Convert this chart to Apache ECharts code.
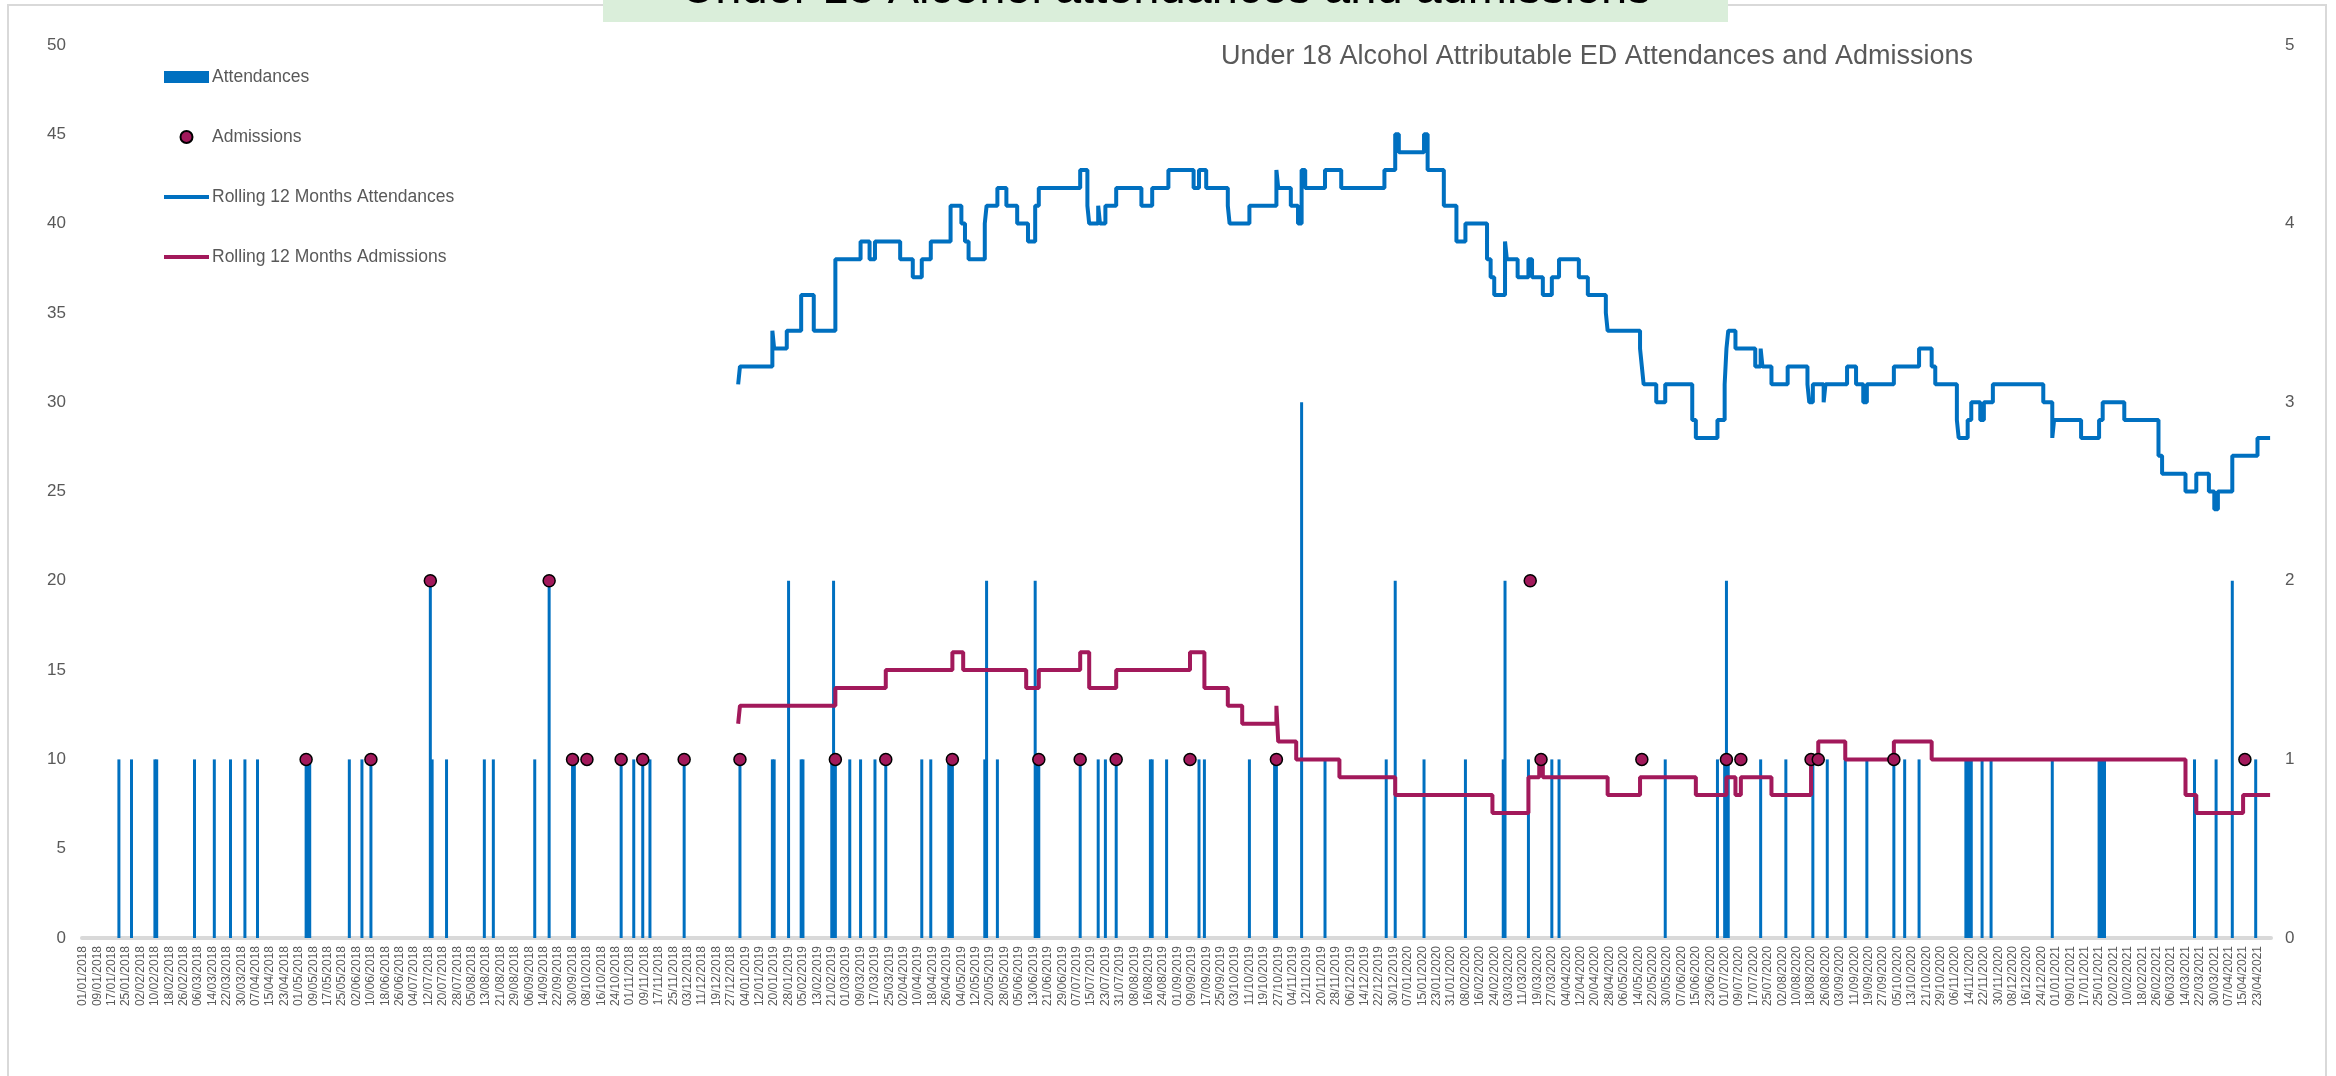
<!DOCTYPE html>
<html>
<head>
<meta charset="utf-8">
<script src="https://cdn.jsdelivr.net/npm/echarts@6/dist/echarts.min.js"></script>
<style>
html,body{margin:0;padding:0;background:#fff;}
#chart{width:2336px;height:1076px;}
</style>
</head>
<body>
<div id="chart"></div>
<script>
// ---- categories: every day from 01/01/2018 to 30/04/2021 ----
const firstDay = Date.UTC(2018, 0, 1);
const dayCount = 1216;
const categories = [];
for (let i = 0; i < dayCount; i++) {
  const d = new Date(firstDay + i * 86400000);
  const dd = String(d.getUTCDate()).padStart(2, '0');
  const mm = String(d.getUTCMonth() + 1).padStart(2, '0');
  categories.push(dd + '/' + mm + '/' + d.getUTCFullYear());
}

// ---- daily attendances (right axis) ----
const attendances = [
  ['21/01/2018',1],['28/01/2018',1],['10/02/2018',1],['11/02/2018',1],['04/03/2018',1],
  ['15/03/2018',1],['24/03/2018',1],['01/04/2018',1],['08/04/2018',1],['05/05/2018',1],
  ['06/05/2018',1],['07/05/2018',1],['29/05/2018',1],['05/06/2018',1],['10/06/2018',1],
  ['13/07/2018',2],['14/07/2018',1],['22/07/2018',1],['12/08/2018',1],['17/08/2018',1],
  ['09/09/2018',1],['17/09/2018',2],['30/09/2018',1],['01/10/2018',1],['27/10/2018',1],
  ['03/11/2018',1],['08/11/2018',1],['12/11/2018',1],['01/12/2018',1],
  ['01/01/2019',1],['19/01/2019',1],['20/01/2019',1],['28/01/2019',2],['04/02/2019',1],
  ['05/02/2019',1],['21/02/2019',1],['22/02/2019',2],['23/02/2019',1],['03/03/2019',1],
  ['09/03/2019',1],['17/03/2019',1],['23/03/2019',1],['12/04/2019',1],['17/04/2019',1],
  ['27/04/2019',1],['28/04/2019',1],['29/04/2019',1],['17/05/2019',1],['18/05/2019',2],
  ['24/05/2019',1],['14/06/2019',2],['15/06/2019',1],['16/06/2019',1],['09/07/2019',1],
  ['19/07/2019',1],['23/07/2019',1],['29/07/2019',1],['17/08/2019',1],['18/08/2019',1],
  ['26/08/2019',1],['13/09/2019',1],['16/09/2019',1],['11/10/2019',1],['25/10/2019',1],
  ['26/10/2019',1],['09/11/2019',3],['22/11/2019',1],['26/12/2019',1],['31/12/2019',2],
  ['16/01/2020',1],['08/02/2020',1],['29/02/2020',1],['01/03/2020',2],['14/03/2020',1],
  ['27/03/2020',1],['31/03/2020',1],['29/05/2020',1],['27/06/2020',1],['01/07/2020',1],
  ['02/07/2020',2],['03/07/2020',1],['21/07/2020',1],['04/08/2020',1],['19/08/2020',1],
  ['27/08/2020',1],['06/09/2020',1],['18/09/2020',1],['03/10/2020',1],['09/10/2020',1],
  ['17/10/2020',1],['12/11/2020',1],['13/11/2020',1],['14/11/2020',1],['15/11/2020',1],
  ['21/11/2020',1],['26/11/2020',1],['30/12/2020',1],['25/01/2021',1],['26/01/2021',1],
  ['27/01/2021',1],['28/01/2021',1],['19/03/2021',1],['31/03/2021',1],['09/04/2021',2],
  ['22/04/2021',1]
];

// ---- daily admissions (right axis) ----
const admissions = [
  ['05/05/2018',1],['10/06/2018',1],['13/07/2018',2],['17/09/2018',2],['30/09/2018',1],
  ['08/10/2018',1],['27/10/2018',1],['08/11/2018',1],['01/12/2018',1],['01/01/2019',1],
  ['23/02/2019',1],['23/03/2019',1],['29/04/2019',1],['16/06/2019',1],['09/07/2019',1],
  ['29/07/2019',1],['08/09/2019',1],['26/10/2019',1],['15/03/2020',2],['21/03/2020',1],
  ['16/05/2020',1],['02/07/2020',1],['10/07/2020',1],['18/08/2020',1],['22/08/2020',1],
  ['03/10/2020',1],['16/04/2021',1]
];

// ---- rolling 12 months attendances (left axis), value changes ----
const rollingAttendances = [
  ['31/12/2018',31],['01/01/2019',32],['19/01/2019',34],['20/01/2019',33],['27/01/2019',34],
  ['04/02/2019',36],['11/02/2019',34],['23/02/2019',38],['09/03/2019',39],['14/03/2019',38],
  ['17/03/2019',39],['31/03/2019',38],['07/04/2019',37],['12/04/2019',38],['17/04/2019',39],
  ['28/04/2019',41],['04/05/2019',40],['06/05/2019',39],['08/05/2019',38],['17/05/2019',40],
  ['18/05/2019',41],['24/05/2019',42],['29/05/2019',41],['04/06/2019',40],['10/06/2019',39],
  ['14/06/2019',41],['16/06/2019',42],['09/07/2019',43],['13/07/2019',41],['14/07/2019',40],
  ['19/07/2019',41],['20/07/2019',40],['23/07/2019',41],['29/07/2019',42],['12/08/2019',41],
  ['18/08/2019',42],['27/08/2019',43],['10/09/2019',42],['13/09/2019',43],['17/09/2019',42],
  ['29/09/2019',41],['30/09/2019',40],['11/10/2019',41],['26/10/2019',43],['27/10/2019',42],
  ['03/11/2019',41],['07/11/2019',40],['09/11/2019',43],['11/11/2019',42],['22/11/2019',43],
  ['01/12/2019',42],['25/12/2019',43],['31/12/2019',45],['02/01/2020',44],['16/01/2020',45],
  ['18/01/2020',43],['27/01/2020',41],['03/02/2020',39],['08/02/2020',40],['20/02/2020',38],
  ['22/02/2020',37],['24/02/2020',36],['01/03/2020',39],['02/03/2020',38],['08/03/2020',37],
  ['14/03/2020',38],['16/03/2020',37],['22/03/2020',36],['27/03/2020',37],['31/03/2020',38],
  ['11/04/2020',37],['16/04/2020',36],['26/04/2020',35],['27/04/2020',34],['15/05/2020',33],
  ['16/05/2020',32],['17/05/2020',31],['24/05/2020',30],['29/05/2020',31],['13/06/2020',29],
  ['15/06/2020',28],['27/06/2020',29],['01/07/2020',31],['02/07/2020',33],['03/07/2020',34],
  ['07/07/2020',33],['18/07/2020',32],['21/07/2020',33],['22/07/2020',32],['27/07/2020',31],
  ['05/08/2020',32],['16/08/2020',31],['17/08/2020',30],['19/08/2020',31],['25/08/2020',30],
  ['26/08/2020',31],['07/09/2020',32],['12/09/2020',31],['16/09/2020',30],['18/09/2020',31],
  ['03/10/2020',32],['17/10/2020',33],['24/10/2020',32],['26/10/2020',31],['07/11/2020',29],
  ['08/11/2020',28],['13/11/2020',29],['15/11/2020',30],['20/11/2020',29],['22/11/2020',30],
  ['27/11/2020',31],['25/12/2020',30],['30/12/2020',28],['31/12/2020',29],['15/01/2021',28],
  ['25/01/2021',29],['27/01/2021',30],['08/02/2021',29],['27/02/2021',27],['01/03/2021',26],
  ['14/03/2021',25],['20/03/2021',26],['27/03/2021',25],['30/03/2021',24],['01/04/2021',25],
  ['09/04/2021',27],['23/04/2021',28],['30/04/2021',28]
];

// ---- rolling 12 months admissions (left axis), value changes ----
const rollingAdmissions = [
  ['31/12/2018',12],['01/01/2019',13],['23/02/2019',14],['23/03/2019',15],['29/04/2019',16],
  ['05/05/2019',15],['09/06/2019',14],['16/06/2019',15],['09/07/2019',16],['14/07/2019',14],
  ['29/07/2019',15],['08/09/2019',16],['16/09/2019',14],['29/09/2019',13],['07/10/2019',12],
  ['26/10/2019',13],['27/10/2019',11],['06/11/2019',10],['30/11/2019',9],['31/12/2019',8],
  ['23/02/2020',7],['14/03/2020',9],['20/03/2020',10],['22/03/2020',9],['27/04/2020',8],
  ['15/05/2020',9],['15/06/2020',8],['02/07/2020',9],['07/07/2020',8],['10/07/2020',9],
  ['27/07/2020',8],['18/08/2020',10],['22/08/2020',11],['06/09/2020',10],['03/10/2020',11],
  ['24/10/2020',10],['14/03/2021',8],['20/03/2021',7],['15/04/2021',8],['30/04/2021',8]
];

const leftTicks = { min: 0, max: 50, interval: 5 };
const rightTicks = { min: 0, max: 5, interval: 1 };

const FONT = 'Liberation Sans';
const GREY = '#595959';
const BLUE = '#0070C0';
const MAROON = '#A2195B';
const LINE_ICON = 'path://M0,0 L45,0 L45,4 L0,4 Z';

const chart = echarts.init(document.getElementById('chart'), null, { renderer: 'canvas' });
chart.setOption({
  animation: false,
  backgroundColor: '#ffffff',
  graphic: [
    { type: 'rect', z: -10, shape: { x: 8, y: 5, width: 2318, height: 1100 },
      style: { fill: 'none', stroke: '#D9D9D9', lineWidth: 2 } },
    { type: 'rect', z: 10, shape: { x: 603, y: -5, width: 1125, height: 27 },
      style: { fill: '#DAEEDA' } },
    { type: 'text', z: 11, x: 1166, y: -10,
      style: { text: 'Under 18 Alcohol attendances and admissions', fill: '#000000',
        font: '47px "Liberation Sans"', textAlign: 'center', textVerticalAlign: 'middle' } },
    { type: 'text', z: 11, x: 1597, y: 57,
      style: { text: 'Under 18 Alcohol Attributable ED Attendances and Admissions', fill: GREY,
        font: '27px "Liberation Sans"', textAlign: 'center', textVerticalAlign: 'middle' } }
  ],
  legend: {
    orient: 'vertical', left: 164, top: 67, padding: 0,
    itemWidth: 45, itemHeight: 12, itemGap: 40,
    textStyle: { color: GREY, fontSize: 17.5, fontFamily: FONT, lineHeight: 20, padding: [0, 0, 0, -2] },
    data: [
      { name: 'Attendances', icon: 'rect' },
      { name: 'Admissions', icon: 'circle' },
      { name: 'Rolling 12 Months Attendances', icon: LINE_ICON },
      { name: 'Rolling 12 Months Admissions', icon: LINE_ICON }
    ]
  },
  grid: { left: 82, right: 65, top: 45, bottom: 138, outerBoundsMode: 'none', containLabel: false },
  xAxis: {
    type: 'category', data: categories, boundaryGap: true,
    axisLine: { show: true, lineStyle: { color: '#D9D9D9', width: 4 } },
    axisTick: { show: false },
    axisLabel: { interval: 7, rotate: 90, margin: 8, color: GREY, fontSize: 12, fontFamily: FONT },
    splitLine: { show: false }
  },
  yAxis: [
    { type: 'value', min: leftTicks.min, max: leftTicks.max, interval: leftTicks.interval,
      axisLine: { show: false }, axisTick: { show: false }, splitLine: { show: false },
      axisLabel: { color: GREY, fontSize: 17, fontFamily: FONT, margin: 16 } },
    { type: 'value', min: rightTicks.min, max: rightTicks.max, interval: rightTicks.interval,
      axisLine: { show: false }, axisTick: { show: false }, splitLine: { show: false },
      axisLabel: { color: GREY, fontSize: 17, fontFamily: FONT, margin: 14 } }
  ],
  series: [
    { name: 'Attendances', type: 'bar', yAxisIndex: 1, data: attendances,
      barWidth: 3, itemStyle: { color: BLUE }, z: 2 },
    { name: 'Rolling 12 Months Attendances', type: 'line', yAxisIndex: 0, data: rollingAttendances,
      step: 'end', symbol: 'none', lineStyle: { color: BLUE, width: 4 }, itemStyle: { color: BLUE }, z: 3 },
    { name: 'Rolling 12 Months Admissions', type: 'line', yAxisIndex: 0, data: rollingAdmissions,
      step: 'end', symbol: 'none', lineStyle: { color: MAROON, width: 4 }, itemStyle: { color: MAROON }, z: 3 },
    { name: 'Admissions', type: 'scatter', yAxisIndex: 1, data: admissions,
      symbol: 'circle', symbolSize: 12,
      itemStyle: { color: MAROON, borderColor: '#000000', borderWidth: 1.5, opacity: 1 }, z: 5 }
  ]
});
</script>
</body>
</html>
